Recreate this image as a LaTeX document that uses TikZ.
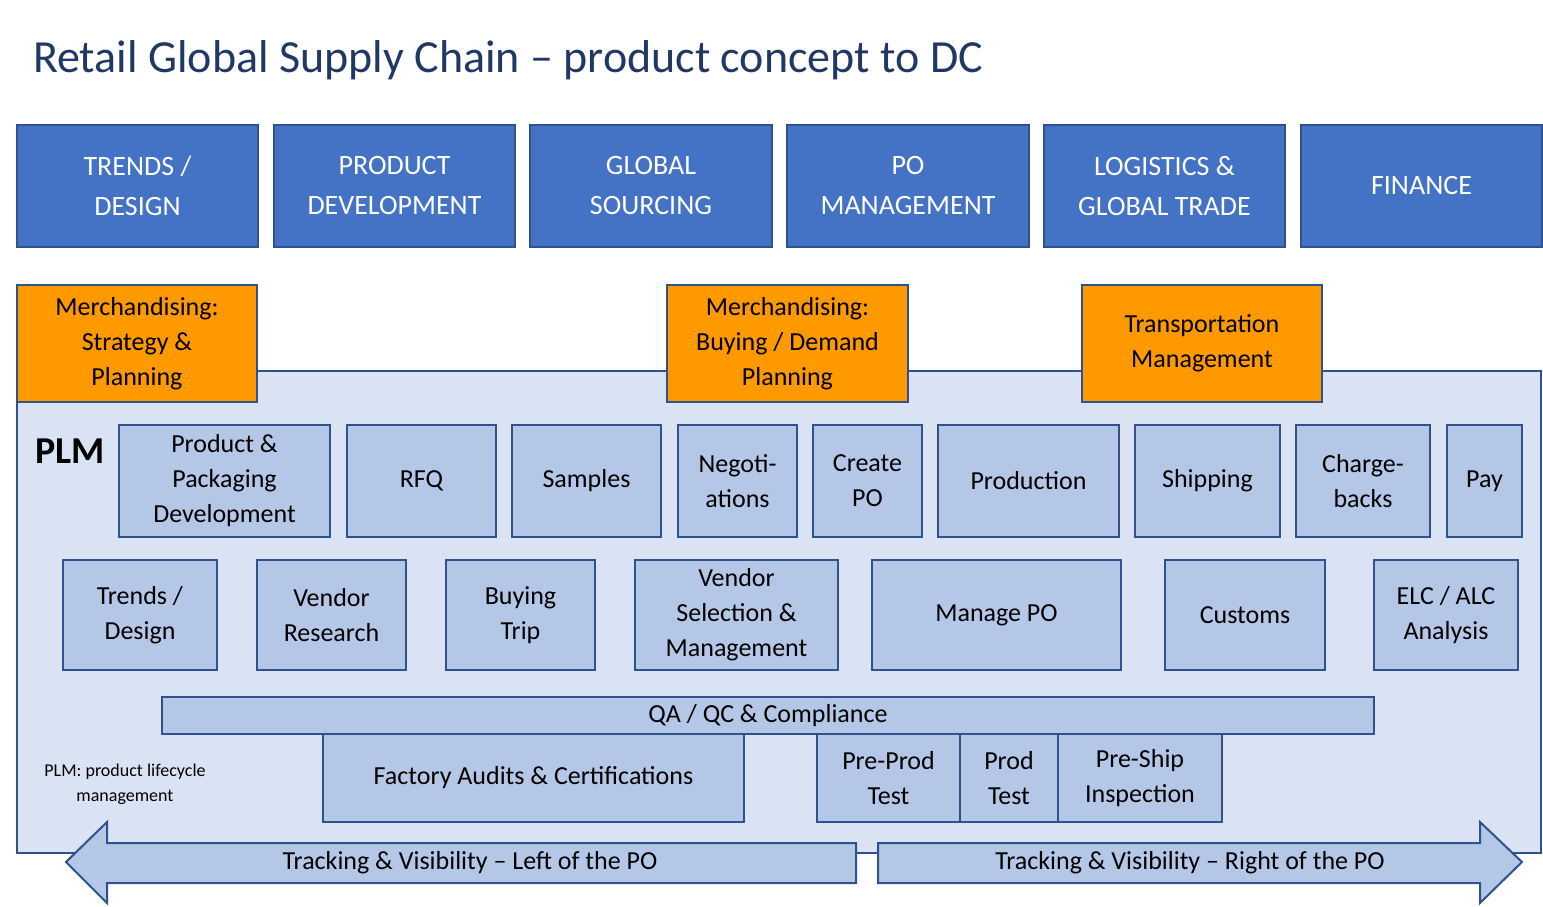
\documentclass[tikz,border=0pt]{standalone}
\usepackage{fontspec}
\setmainfont{Carlito}
\definecolor{hdr}{HTML}{4472C4}
\definecolor{bd}{HTML}{2F528F}
\definecolor{lt}{HTML}{B4C7E7}
\definecolor{pan}{HTML}{DAE3F3}
\definecolor{org}{HTML}{FF9900}
\definecolor{ttl}{HTML}{1F3864}
\begin{document}
\begin{tikzpicture}[x=0.5pt,y=-0.5pt,
 hb/.style={draw=bd,line width=1pt,fill=hdr},
 ob/.style={draw=bd,line width=1pt,fill=org},
 lb/.style={draw=bd,line width=1pt,fill=lt},
 ht/.style={text=white,font=\fontsize{14}{20}\selectfont,align=center},
 bt/.style={font=\fontsize{13}{17.5}\selectfont,align=center}]
\useasboundingbox (0,0) rectangle (1543,906);
\node[anchor=west,text=ttl,font=\fontsize{23}{28}\selectfont] (title) at (26,60) {Retail Global Supply Chain – product concept to DC};
% header boxes
\foreach \a/\b/\t [count=\i] in {17/258/{TRENDS /\\DESIGN},274/515/{PRODUCT\\DEVELOPMENT},530/772/{GLOBAL\\SOURCING},787/1029/{PO\\MANAGEMENT},1044/1285/{LOGISTICS \&\\GLOBAL TRADE},1301/1542/{FINANCE}}{
 \draw[hb] (\a,125) rectangle (\b,247);
 \node[ht] (h\i) at ({(\a+\b)/2},186) {\t};
}
% panel
\draw[draw=bd,line width=1pt,fill=pan] (17,371) rectangle (1541,853);
% orange
\foreach \a/\b/\t [count=\i] in {17/257/{Merchandising:\\Strategy \&\\Planning},667/908/{Merchandising:\\Buying / Demand\\Planning},1082/1322/{Transportation\\Management}}{
 \draw[ob] (\a,285) rectangle (\b,402);
 \node[bt] (o\i) at ({(\a+\b)/2},343.5) {\t};
}
\node[anchor=west,font=\fontsize{19}{22}\selectfont\bfseries] (plm) at (28,451) {PLM};
% row1
\foreach \a/\b/\t [count=\i] in {119/330/{Product \&\\Packaging\\Development},347/496/{RFQ},512/661/{Samples},678/797/{Negoti-\\ations},813/922/{Create\\PO},938/1119/{Production},1135/1280/{Shipping},1296/1430/{Charge-\\backs},1447/1522/{Pay}}{
 \draw[lb] (\a,425) rectangle (\b,537);
 \node[bt] (r\i) at ({(\a+\b)/2},481) {\t};
}
% row2
\foreach \a/\b/\t [count=\i] in {63/217/{Trends /\\Design},257/406/{Vendor\\Research},446/595/{Buying\\Trip},635/838/{Vendor\\Selection \&\\Management},872/1121/{Manage PO},1165/1325/{Customs},1374/1518/{ELC / ALC\\Analysis}}{
 \draw[lb] (\a,560) rectangle (\b,670);
 \node[bt] (s\i) at ({(\a+\b)/2},615) {\t};
}
\draw[lb] (162,697) rectangle (1374,734);
\node[bt] (qa) at (768,716) {QA / QC \& Compliance};
\foreach \a/\b/\t [count=\i] in {323/744/{Factory Audits \& Certifications},817/960/{Pre-Prod\\Test},960/1058/{Prod\\Test},1058/1222/{Pre-Ship\\Inspection}}{
 \draw[lb] (\a,734) rectangle (\b,822);
 \node[bt] (q\i) at ({(\a+\b)/2},778) {\t};
}
\node[align=center,font=\fontsize{9}{12.5}\selectfont] (note) at (125,784) {PLM: product lifecycle\\management};
% arrows
\draw[lb] (856,843) -- (107,843) -- (107,822) -- (66,862) -- (107,903) -- (107,883) -- (856,883) -- cycle;
\node[bt] (al) at (470,863) {Tracking \& Visibility – Left of the PO};
\draw[lb] (878,843) -- (1480,843) -- (1480,822) -- (1522,862) -- (1480,903) -- (1480,883) -- (878,883) -- cycle;
\node[bt] (ar) at (1190,863) {Tracking \& Visibility – Right of the PO};
\end{tikzpicture}
\end{document}
